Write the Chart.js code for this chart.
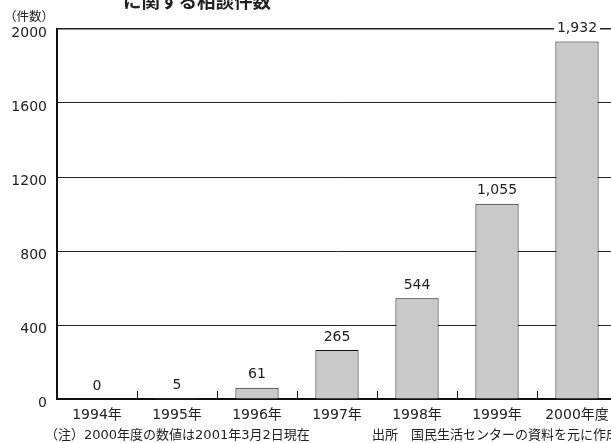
<!DOCTYPE html>
<html lang="ja">
<head>
<meta charset="utf-8">
<script src="https://cdn.jsdelivr.net/npm/chart.js@4/dist/chart.umd.min.js"></script>
<style>
  html, body { margin: 0; padding: 0; background: #fff; overflow: hidden; width: 611px; height: 443px; }
  #wrap { position: relative; width: 611px; height: 443px; overflow: hidden; }
  canvas { position: absolute; left: 0; top: 0; }
  .txt { position: absolute; font-family: "DejaVu Sans", "Noto Sans CJK JP", sans-serif; color: #222; white-space: nowrap; }
  #title { left: 123px; top: -13px; font-size: 18.5px; font-weight: bold; font-family: "Noto Sans CJK JP", sans-serif; }
  #unit { left: 4px; top: 6px; font-size: 12.5px; font-family: "Noto Sans CJK JP", sans-serif; }
  #note { left: 45px; top: 424px; font-size: 13px; }
  #src { left: 372px; top: 424px; font-size: 13px; }
</style>
</head>
<body>
<div id="wrap">
  <canvas id="c" width="620" height="443"></canvas>
  <div class="txt" id="title">に関する相談件数</div>
  <div class="txt" id="unit">（件数）</div>
  <div class="txt" id="note">（注）2000年度の数値は2001年3月2日現在</div>
  <div class="txt" id="src">出所　国民生活センターの資料を元に作成</div>
</div>
<script>
// 年度別の相談件数
const years = ['1994年', '1995年', '1996年', '1997年', '1998年', '1999年', '2000年度'];
const counts = [0, 5, 61, 265, 544, 1055, 1932];
const countLabels = ['0', '5', '61', '265', '544', '1,055', '1,932'];
const yTicks = [0, 400, 800, 1200, 1600, 2000];

const FONT = '"DejaVu Sans", "Noto Sans CJK JP", sans-serif';

// 件数ラベル（白地つき）と区切りの目盛り
const decor = {
  id: 'decor',
  afterDatasetsDraw(chart) {
    const ctx = chart.ctx;
    const x = chart.scales.x, y = chart.scales.y;
    const area = chart.chartArea;
    ctx.save();
    // category separators rising from the baseline
    ctx.strokeStyle = '#111';
    ctx.lineWidth = 1;
    for (let i = 1; i < years.length; i++) {
      const px = Math.round((x.getPixelForValue(i - 1) + x.getPixelForValue(i)) / 2) + 0.5;
      ctx.beginPath();
      ctx.moveTo(px, area.bottom);
      ctx.lineTo(px, area.bottom - 8);
      ctx.stroke();
    }
    // value labels
    ctx.font = '14px ' + FONT;
    ctx.textAlign = 'center';
    ctx.textBaseline = 'middle';
    const meta = chart.getDatasetMeta(0);
    meta.data.forEach((bar, i) => {
      const ly = y.getPixelForValue(counts[i]) - 13;
      const w = ctx.measureText(countLabels[i]).width;
      ctx.fillStyle = '#fff';
      ctx.fillRect(bar.x - w / 2 - 3, ly - 7, w + 6, 14);
      ctx.fillStyle = '#222';
      ctx.fillText(countLabels[i], bar.x, ly);
    });
    ctx.restore();
  }
};

new Chart(document.getElementById('c'), {
  type: 'bar',
  data: {
    labels: years,
    datasets: [{
      data: counts,
      backgroundColor: '#c9c9c9',
      borderColor: '#111',
      borderWidth: 1,
      categoryPercentage: 1,
      barPercentage: 0.54
    }]
  },
  options: {
    responsive: false,
    animation: false,
    layout: { padding: { top: 29, right: 3, left: 0, bottom: 0 } },
    plugins: { legend: { display: false }, tooltip: { enabled: false } },
    scales: {
      x: {
        grid: { display: false, drawTicks: false },
        border: { display: true, color: '#111', width: 2 },
        ticks: { color: '#222', font: { family: FONT, size: 14 }, padding: 8, maxRotation: 0, autoSkip: false },
        afterFit(s) { s.height = 44; }
      },
      y: {
        min: 0,
        max: 2000,
        afterBuildTicks(s) { s.ticks = yTicks.map(v => ({ value: v })); },
        grid: {
          drawTicks: false,
          color: (c) => c.tick && c.tick.value === 0 ? 'rgba(0,0,0,0)' : '#222',
          lineWidth: (c) => c.tick && c.tick.value === 2000 ? 1.6 : 1
        },
        border: { display: true, color: '#111', width: 2 },
        ticks: {
          color: '#222',
          font: { family: FONT, size: 14 },
          padding: 10,
          labelOffset: 4,
          callback: (v) => String(v)
        },
        afterFit(s) { s.width = 57; }
      }
    }
  },
  plugins: [decor]
});
</script>
</body>
</html>
